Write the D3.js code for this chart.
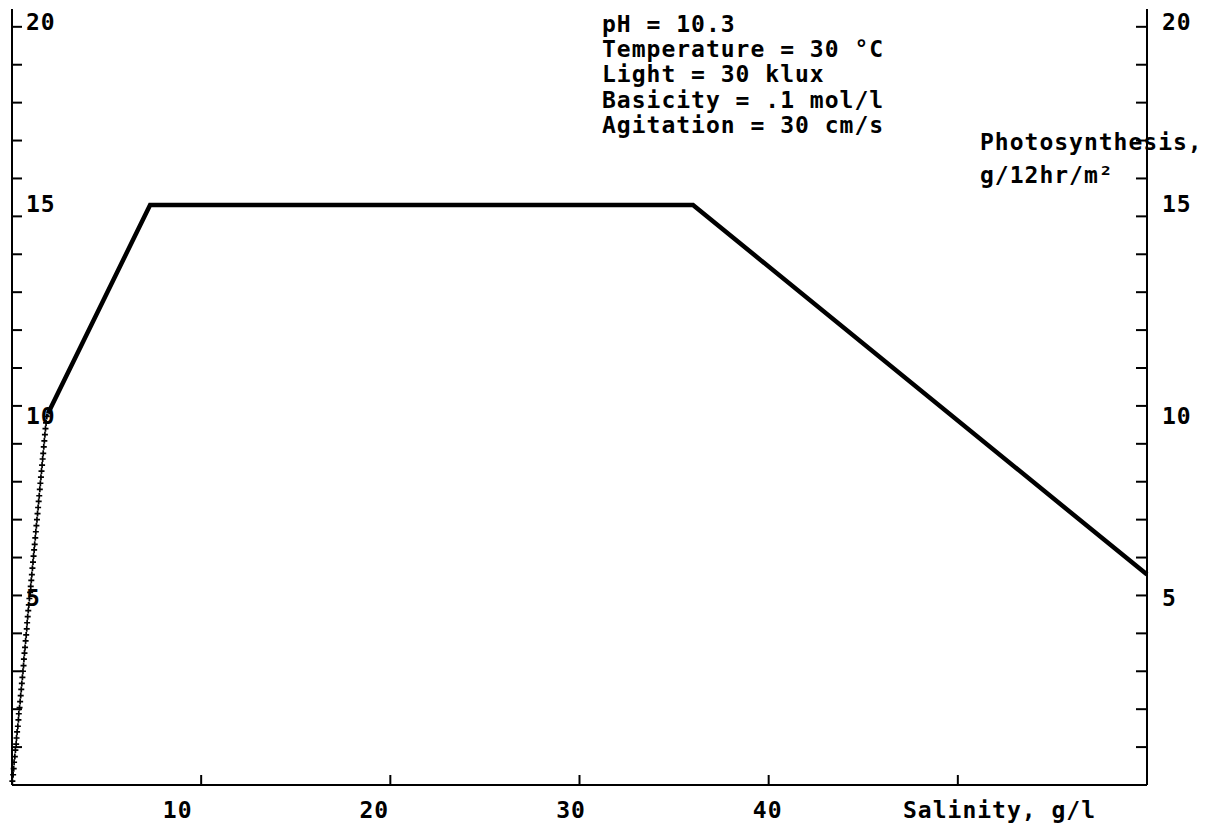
<!DOCTYPE html>
<html>
<head>
<meta charset="utf-8">
<script src="https://cdn.jsdelivr.net/npm/d3@7"></script>
<style>
  body { margin: 0; background: #fff; }
  svg { display: block; }
  text {
    font-family: "DejaVu Sans Mono", monospace;
    font-weight: bold;
    font-size: 23px;
    letter-spacing: 1px;
    fill: #000;
  }
</style>
</head>
<body>
<svg id="chart" width="1225" height="829"></svg>
<script>
// Axis tick labels
const salinityTicks = [10, 20, 30, 40];
const photoTicks = [5, 10, 15, 20];

// Text blocks
const conditions = [
  "pH = 10.3",
  "Temperature = 30 °C",
  "Light = 30 klux",
  "Basicity = .1 mol/l",
  "Agitation = 30 cm/s"
];
const yTitle = ["Photosynthesis,", "g/12hr/m²"];
const xTitle = "Salinity, g/l";

// Model response curve (thick line)
const curveSalinity = [1.9, 7.3, 36, 60];
const curvePhoto = [9.8, 15.3, 15.3, 5.55];

// Plotted trace at low salinity (+ markers)
const traceSalinity = [0.02, 0.06, 0.09, 0.11, 0.15, 0.18, 0.22, 0.24, 0.27, 0.31,
  0.34, 0.36, 0.40, 0.43, 0.46, 0.49, 0.52, 0.55, 0.58, 0.61,
  0.63, 0.66, 0.69, 0.72, 0.75, 0.78, 0.80, 0.83, 0.86, 0.89,
  0.92, 0.96, 0.99, 1.02, 1.05, 1.08, 1.11, 1.14, 1.17, 1.20,
  1.23, 1.26, 1.29, 1.32, 1.35, 1.38, 1.41, 1.44, 1.47, 1.50,
  1.53, 1.56, 1.59, 1.62, 1.65, 1.68, 1.71, 1.74, 1.77, 1.80, 1.84];
const tracePhoto = [0.10, 0.27, 0.43, 0.60, 0.75, 0.92, 1.08, 1.24, 1.40, 1.55,
  1.72, 1.88, 2.04, 2.20, 2.36, 2.52, 2.68, 2.84, 3.00, 3.15,
  3.32, 3.48, 3.63, 3.80, 3.96, 4.12, 4.28, 4.44, 4.60, 4.75,
  4.92, 5.08, 5.24, 5.40, 5.55, 5.72, 5.88, 6.04, 6.20, 6.35,
  6.52, 6.68, 6.84, 7.00, 7.16, 7.32, 7.48, 7.63, 7.80, 7.96,
  8.12, 8.28, 8.44, 8.60, 8.75, 8.92, 9.08, 9.24, 9.40, 9.55, 9.72];

const svg = d3.select("#chart");

const xLeft = 12, xRight = 1147, yBottom = 785, yTop = 9;
const x = d3.scaleLinear().domain([0, 60]).range([xLeft, xRight]);
const y = d3.scaleLinear().domain([0, 20.47]).range([yBottom, yTop]);

// Tick labels along the bottom sit on a slightly wider character grid
const xLabel = d3.scaleLinear().domain([0, 60]).range([xLeft - 31, xRight + 14]);
// Vertical labels snap to text rows
const rowH = 30.3, row0 = 30;
const snapRow = v => row0 + Math.round((y(v) - 24) / rowH) * rowH;

function styleAxis(g) {
  g.selectAll("path, line").attr("stroke", "#000").attr("stroke-width", 2);
}

// Bottom axis, ticks pointing up
svg.append("g")
  .attr("transform", `translate(0,${yBottom})`)
  .call(d3.axisBottom(x).tickValues([10, 20, 30, 40, 50]).tickSize(-10)
    .tickSizeOuter(0).tickFormat("").offset(0))
  .call(styleAxis);

// Left axis, ticks pointing inward
svg.append("g")
  .attr("transform", `translate(${xLeft},0)`)
  .call(d3.axisLeft(y).tickValues(d3.range(1, 21)).tickSize(-10)
    .tickSizeOuter(0).tickFormat("").offset(0))
  .call(styleAxis);

// Right axis, ticks pointing inward
svg.append("g")
  .attr("transform", `translate(${xRight},0)`)
  .call(d3.axisRight(y).tickValues(d3.range(1, 21)).tickSize(-11)
    .tickSizeOuter(0).tickFormat("").offset(0))
  .call(styleAxis);

// Bottom tick labels
svg.append("g").selectAll("text").data(salinityTicks).join("text")
  .attr("x", d => xLabel(d))
  .attr("y", 818)
  .attr("text-anchor", "middle")
  .text(d => d);

// Left and right tick labels
svg.append("g").selectAll("text").data(photoTicks).join("text")
  .attr("x", 26)
  .attr("y", d => snapRow(d))
  .text(d => d);
svg.append("g").selectAll("text").data(photoTicks).join("text")
  .attr("x", 1162)
  .attr("y", d => snapRow(d))
  .text(d => d);

// Axis titles
svg.append("text").attr("x", 903).attr("y", 818).text(xTitle);
svg.append("g").selectAll("text").data(yTitle).join("text")
  .attr("x", 980)
  .attr("y", (d, i) => 150 + i * 33)
  .text(d => d);

// Conditions block
svg.append("g").selectAll("text").data(conditions).join("text")
  .attr("x", 602)
  .attr("y", (d, i) => 32 + i * 25.2)
  .text(d => d);

// Trace markers
const trace = traceSalinity.map((s, i) => [s, tracePhoto[i]]);
svg.append("g").selectAll("path").data(trace).join("path")
  .attr("d", d => {
    const px = x(d[0]), py = y(d[1]);
    return `M${px - 3},${py}H${px + 3}M${px},${py - 3}V${py + 3}`;
  })
  .attr("stroke", "#000")
  .attr("stroke-width", 1.7)
  .attr("fill", "none");

// Response curve
const curve = curveSalinity.map((s, i) => [s, curvePhoto[i]]);
svg.append("path")
  .datum(curve)
  .attr("d", d3.line().x(d => x(d[0])).y(d => y(d[1])))
  .attr("fill", "none")
  .attr("stroke", "#000")
  .attr("stroke-width", 4.5)
  .attr("stroke-linejoin", "miter");
</script>
</body>
</html>
